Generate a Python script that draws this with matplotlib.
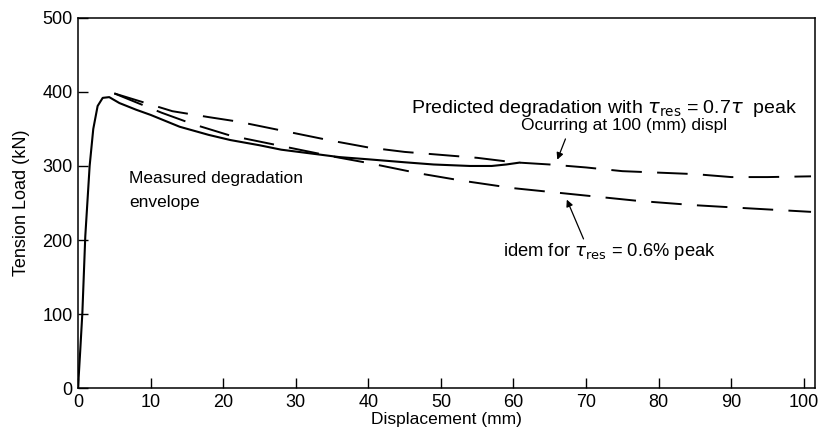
import matplotlib
matplotlib.use("Agg")
import matplotlib.pyplot as plt

plt.rcParams['font.family'] = ['Liberation Sans', 'DejaVu Sans']
plt.rcParams['mathtext.fontset'] = 'dejavusans'
plt.rcParams['lines.scale_dashes'] = False

# measured degradation envelope (solid)
meas_x = [0, 0.3, 0.6, 1.0, 1.6, 2.1, 2.7, 3.4, 4.3, 5.7, 8, 10, 14, 18, 21, 25, 28, 32, 36, 40, 45, 49, 54, 57, 59, 60.8]
meas_y = [0, 50, 102, 205, 300, 350, 381, 392, 393, 385, 376, 369, 353, 342, 335, 328, 322, 317, 312, 309, 305, 302, 300, 300, 302, 304.5]

# predicted, tau_res = 0.7 tau peak (upper dashed)
pred07_x = [5, 9, 13, 18, 22, 25, 30, 35, 40, 45, 50, 55, 60, 65, 70, 75, 80, 85, 90, 95, 101]
pred07_y = [398, 386, 374, 366, 360, 354, 344, 334, 325, 319, 315, 311, 305, 302, 298, 293, 291, 289, 285, 285, 286]

# idem for tau_res = 0.6 peak (lower dashed)
pred06_x = [5, 7, 11.5, 16, 21, 26.5, 35, 40, 44, 47, 53, 60, 69, 77, 85, 92, 101]
pred06_y = [398, 390, 372, 356, 341, 330, 313, 304, 296, 290, 280, 270, 261, 253, 247, 243, 238]

fig = plt.figure(figsize=(8.39, 4.37), dpi=100)
ax = fig.add_axes([0.093, 0.112, 0.878, 0.847])

ax.plot(meas_x, meas_y, color='black', lw=1.5)
ax.plot(pred07_x, pred07_y, color='black', lw=1.4, dashes=(22, 11))
ax.plot(pred06_x, pred06_y, color='black', lw=1.4, dashes=(22, 11))

ax.set_xlim(0, 101.5)
ax.set_ylim(0, 500)
ax.set_xticks(range(0, 101, 10))
ax.set_yticks(range(0, 501, 100))
ax.tick_params(direction='in', length=7, width=1, labelsize=13)
ax.tick_params(axis='x', pad=4)
ax.tick_params(axis='y', pad=4)
for s in ax.spines.values():
    s.set_linewidth(1.1)

ax.set_xlabel('Displacement (mm)', fontsize=12.5, labelpad=1)
ax.set_ylabel('Tension Load (kN)', fontsize=13, labelpad=9)

ax.text(7, 293, 'Measured degradation\nenvelope', fontsize=12.5, ha='left', va='top', linespacing=1.75)
ax.text(45.9, 378, r'Predicted degradation with $\tau_{\rm res}$ = 0.7$\tau$  peak', fontsize=14,
        ha='left', va='center')
ax.text(75.2, 354, 'Ocurring at 100 (mm) displ', fontsize=12.5, ha='center', va='center')
ax.text(58.6, 184.5, r'idem for $\tau_{\rm res}$ = 0.6% peak', fontsize=13.2, ha='left', va='center')

ax.annotate('', xy=(65.9, 305), xytext=(67.3, 340),
            arrowprops=dict(arrowstyle='-|>', color='black', lw=0.9, mutation_scale=10))
ax.annotate('', xy=(67.2, 258), xytext=(69.8, 198),
            arrowprops=dict(arrowstyle='-|>', color='black', lw=0.9, mutation_scale=10))

fig.savefig('out.png', dpi=100)
